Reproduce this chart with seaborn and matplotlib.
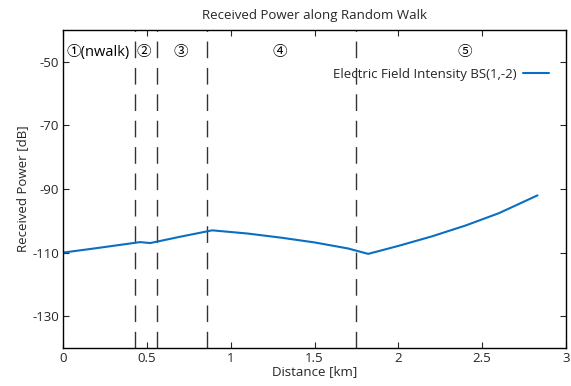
import matplotlib
matplotlib.use("Agg")
import matplotlib.pyplot as plt
import seaborn as sns
import pandas as pd

distance_km = [0.0, 0.2, 0.46, 0.52, 0.7, 0.89, 1.1, 1.3, 1.5, 1.7, 1.82, 2.0, 2.2, 2.4, 2.6, 2.83]
power_db = [-110.0, -108.6, -106.7, -107.0, -105.0, -103.0, -104.0, -105.3, -106.8, -108.7, -110.4, -107.9, -104.9, -101.5, -97.6, -92.0]
boundaries_km = [0.43, 0.56, 0.857, 1.75]
region_labels = ["①(nwalk)", "②", "③", "④", "⑤"]
region_label_x = [0.02, 0.44, 0.66, 1.25, 2.35]
series_name = "Electric Field Intensity BS(1,-2)"
yticks = [-130, -110, -90, -70, -50]
xticks = [0, 0.5, 1, 1.5, 2, 2.5, 3]
xtick_labels = ["0", "0.5", "1", "1.5", "2", "2.5", "3"]

sns.set_style("ticks")
plt.rcParams['font.family'] = ['Open Sans', 'Noto Sans CJK JP', 'DejaVu Sans']
plt.rcParams['axes.unicode_minus'] = False
plt.rcParams['xtick.direction'] = 'in'
plt.rcParams['ytick.direction'] = 'in'

fig = plt.figure(figsize=(5.71, 3.86), dpi=100)
ax = fig.add_axes([63/571, 1-348/386, (566-63)/571, (348-30)/386])

df = pd.DataFrame({"Distance": distance_km, "Power": power_db, "Series": series_name})
sns.lineplot(data=df, x="Distance", y="Power", hue="Series", palette=["#0a6fc2"],
             linewidth=1.5, ax=ax, legend=True, sort=False)

for b in boundaries_km:
    ax.axvline(b, color="#333333", lw=1.0, dashes=(12, 7), zorder=1)

for lbl, x in zip(region_labels, region_label_x):
    ax.text(x, -47, lbl, fontsize=10.5, ha="left", va="center", color="black")

ax.set_xlim(0, 3)
ax.set_ylim(-140, -40)
ax.set_xticks(xticks)
ax.set_xticklabels(xtick_labels)
ax.set_yticks(yticks)
ax.tick_params(axis="both", labelsize=9.5, top=True, right=True, length=4, width=0.8, pad=3)
for s in ax.spines.values():
    s.set_linewidth(1.0)
    s.set_color("black")

ax.set_xlabel("Distance [km]", fontsize=9.5, labelpad=0)
ax.set_ylabel("Received Power [dB]", fontsize=9.5, labelpad=2)
ax.set_title("Received Power along Random Walk", fontsize=9.5, pad=8)

leg = ax.legend(loc="upper right", bbox_to_anchor=(0.985, 0.91), frameon=False,
                fontsize=9.5, markerfirst=False, handlelength=2.0, handletextpad=0.5,
                borderaxespad=0.3)

fig.savefig("out.png", dpi=100)
